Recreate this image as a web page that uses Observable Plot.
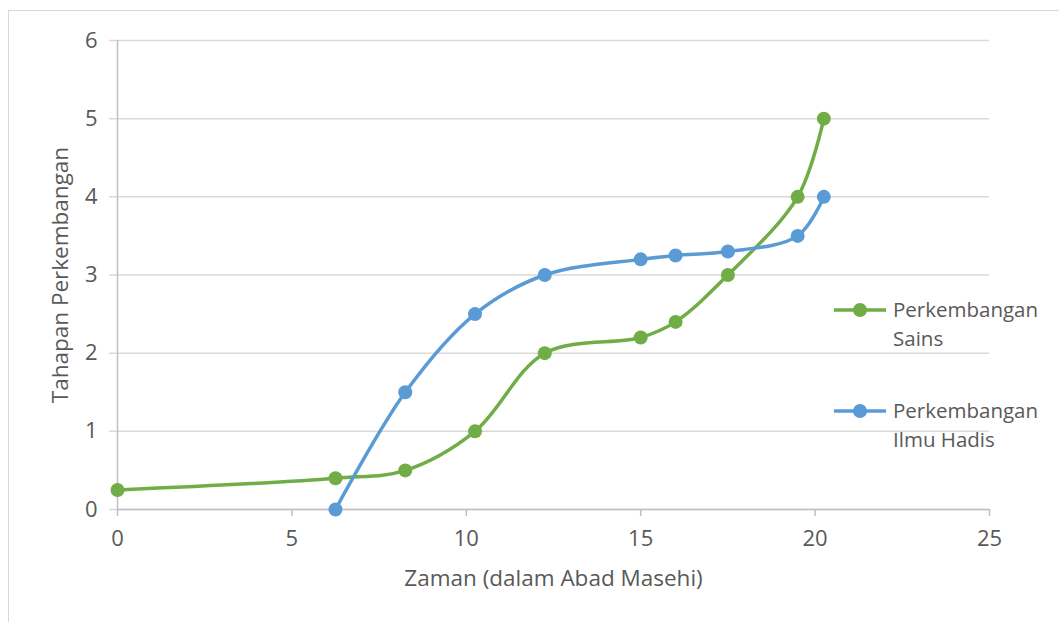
<!DOCTYPE html>
<html>
<head>
<meta charset="utf-8">
<script src="https://cdn.jsdelivr.net/npm/d3@7"></script>
<script src="https://cdn.jsdelivr.net/npm/@observablehq/plot@0.6"></script>
<style>
  html, body { margin: 0; padding: 0; background: #fff; }
  #wrap { position: relative; width: 1059px; height: 622px; overflow: hidden; font-family: "Open Sans", sans-serif; }
  #frame { position: absolute; left: 8px; top: 10px; width: 1100px; height: 700px; border: 1.5px solid #d9d9d9; box-sizing: border-box; }
  #chart { position: absolute; left: 0; top: 0; }
  .leg { position: absolute; display: flex; align-items: flex-start; color: #595959; font-size: 20.5px; line-height: 29px; }
  .leg svg { margin-top: 3px; margin-right: 7px; }
</style>
</head>
<body>
<div id="wrap">
  <div id="frame"></div>
  <div id="chart"></div>
  <div id="legend"></div>
</div>
<script>
// Data
const sainsX = [0, 6.25, 8.25, 10.25, 12.25, 15, 16, 17.5, 19.5, 20.25];
const sainsY = [0.25, 0.4, 0.5, 1.0, 2.0, 2.2, 2.4, 3.0, 4.0, 5.0];
const hadisX = [6.25, 8.25, 10.25, 12.25, 15, 16, 17.5, 19.5, 20.25];
const hadisY = [0, 1.5, 2.5, 3.0, 3.2, 3.25, 3.3, 3.5, 4.0];
const seriesNames = ["Perkembangan Sains", "Perkembangan Ilmu Hadis"];
const seriesLegend = [["Perkembangan", "Sains"], ["Perkembangan", "Ilmu Hadis"]];
const seriesColors = ["#70ad47", "#5b9bd5"];
const xTicks = [0, 5, 10, 15, 20, 25];
const yTicks = [0, 1, 2, 3, 4, 5, 6];
const xLabel = "Zaman (dalam Abad Masehi)";
const yLabel = "Tahapan Perkembangan";

const sains = sainsX.map((x, i) => ({x, y: sainsY[i], s: seriesNames[0]}));
const hadis = hadisX.map((x, i) => ({x, y: hadisY[i], s: seriesNames[1]}));

const chart = Plot.plot({
  width: 1059,
  height: 622,
  marginLeft: 117,
  marginRight: 70,
  marginTop: 40,
  marginBottom: 113,
  style: {fontFamily: "'Open Sans', sans-serif", fontSize: "22px", color: "#595959", background: "transparent", overflow: "visible"},
  x: {domain: [0, 25], ticks: xTicks},
  y: {domain: [0, 6], ticks: yTicks},
  marks: [
    Plot.ruleY(yTicks, {y: d => d, stroke: "#d9d9d9", strokeWidth: 1.5, insetLeft: -8}),
    Plot.axisY(yTicks, {tickSize: 0, tickPadding: 20, fill: "#595959", fontSize: 22, tickFormat: d3.format("d"), label: null}),
    Plot.axisX(xTicks, {tickSize: 7, tickPadding: 14, stroke: "#bfbfbf", strokeWidth: 1.5, fill: "#595959", fontSize: 22, tickFormat: d3.format("d"), label: null}),
    Plot.ruleX([0], {stroke: "#bfbfbf", strokeWidth: 1.5}),
    Plot.ruleY([0], {stroke: "#bfbfbf", strokeWidth: 1.5}),
    Plot.text([xLabel], {frameAnchor: "bottom", dy: 69, text: d => d, fill: "#595959", fontSize: 22.5, lineAnchor: "middle", textAnchor: "middle"}),
    Plot.text([yLabel], {frameAnchor: "left", dx: -57, text: d => d, fill: "#595959", fontSize: 22.5, rotate: -90, lineAnchor: "middle", textAnchor: "middle"}),
    Plot.line(sains, {x: "x", y: "y", stroke: seriesColors[0], strokeWidth: 3.5, curve: "catmull-rom"}),
    Plot.line(hadis, {x: "x", y: "y", stroke: seriesColors[1], strokeWidth: 3.5, curve: "catmull-rom"}),
    Plot.dot(sains, {x: "x", y: "y", fill: seriesColors[0], r: 7}),
    Plot.dot(hadis, {x: "x", y: "y", fill: seriesColors[1], r: 7})
  ]
});
document.getElementById("chart").append(chart);

// Legend (HTML, to the right of the plot)
const legend = document.getElementById("legend");
const legTops = [295, 396];
seriesLegend.forEach((lines, i) => {
  const d = document.createElement("div");
  d.className = "leg";
  d.style.left = "834px";
  d.style.top = legTops[i] + "px";
  d.innerHTML = `<svg width="52" height="24"><line x1="0" x2="52" y1="12" y2="12" stroke="${seriesColors[i]}" stroke-width="3.5"/><circle cx="26" cy="12" r="7" fill="${seriesColors[i]}"/></svg><div>${lines.join("<br>")}</div>`;
  legend.append(d);
});
</script>
</body>
</html>
